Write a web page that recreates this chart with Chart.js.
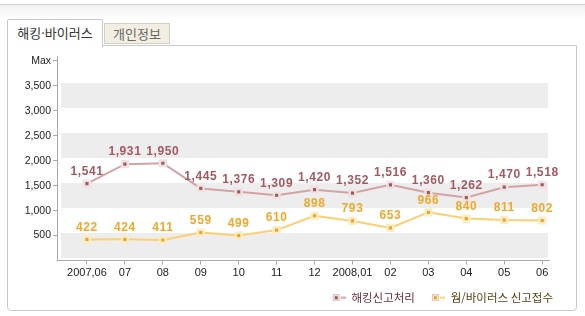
<!DOCTYPE html>
<html lang="ko">
<head>
<meta charset="utf-8">
<script src="https://cdn.jsdelivr.net/npm/chart.js@4"></script>
<style>
  html, body { margin: 0; padding: 0; background: #fff; }
  body { width: 585px; height: 316px; position: relative; overflow: hidden; font-family: "Noto Sans CJK KR", sans-serif; }
  .topline { position: absolute; left: 0; top: 4px; width: 585px; height: 14px; border-top: 1px solid #cfcfcf; background: linear-gradient(#f1f1f1, #fff); }
  .panel { position: absolute; left: 7px; top: 45px; width: 568px; height: 264px; border: 1px solid #c9c9c9; border-radius: 0 0 4px 4px; background: #fff; }
  .tab { position: absolute; box-sizing: border-box; font-size: 13px; line-height: 1; display: flex; align-items: center; justify-content: center; }
  .tab.on { left: 7px; top: 19px; width: 96px; height: 28px; border: 1px solid #c9c9c9; border-bottom: none; border-radius: 2px 2px 0 0; background: #fff; color: #333; padding-bottom: 2px; }
  .tab.off { left: 104px; top: 23px; width: 66px; height: 21px; border: 1px solid #d3cfc2; background: #f2eee2; color: #666; }
  canvas { position: absolute; left: 0; top: 0; }
</style>
</head>
<body>
<div class="topline"></div>
<div class="panel"></div>
<div class="tab on">해킹·바이러스</div>
<div class="tab off">개인정보</div>
<canvas id="chart" width="585" height="316"></canvas>
<script>
const months = ["2007,06", "07", "08", "09", "10", "11", "12", "2008,01", "02", "03", "04", "05", "06"];
const hacking = [1541, 1931, 1950, 1445, 1376, 1309, 1420, 1352, 1516, 1360, 1262, 1470, 1518];
const virus = [422, 424, 411, 559, 499, 610, 898, 793, 653, 966, 840, 811, 802];
const yTicks = [500, 1000, 1500, 2000, 2500, 3000, 3500, 4000];
const bandStarts = [0, 1000, 2000, 3000];
const seriesNames = ["해킹신고처리", "웜/바이러스 신고접수"];

const lineColors = ["#d4a2a5", "#fbcf72"];
const markerFill = ["#9c5a5e", "#eca52a"];
const markerEdge = ["#f1e1e1", "#fcecc2"];
const valueColors = ["#a5585f", "#f1a829"];
const legendTextColors = ["#6a2a3c", "#5a4214"];

// legend icon: marker square + dash, with some blank room on the left as item gap
function makeIcon(i) {
  const c = document.createElement("canvas");
  c.width = 20; c.height = 7;
  const g = c.getContext("2d");
  g.fillStyle = markerEdge[i];
  g.fillRect(7, 0, 7, 7);
  g.strokeStyle = "#d9c8c8";
  g.strokeRect(7.5, 0.5, 6, 6);
  g.fillStyle = markerFill[i];
  g.fillRect(9, 2, 3, 3);
  g.fillStyle = lineColors[i];
  g.fillRect(15, 2.5, 5, 2);
  return c;
}
const legendIcons = [makeIcon(0), makeIcon(1)];

const bandPlugin = {
  id: "bands",
  beforeDatasetsDraw(chart) {
    const { ctx, chartArea, scales } = chart;
    const y = scales.y;
    ctx.save();
    ctx.fillStyle = "#ededed";
    bandStarts.forEach((v) => {
      const top = Math.round(y.getPixelForValue(v + 500)) - 3;
      const bottom = Math.round(y.getPixelForValue(v)) - 3;
      ctx.fillRect(chartArea.left + 4, top, chartArea.right - chartArea.left - 5, bottom - top);
    });
    ctx.restore();
  },
};

const valuePlugin = {
  id: "values",
  afterDatasetsDraw(chart) {
    const { ctx } = chart;
    ctx.save();
    ctx.font = "bold 12px 'Liberation Sans', Arial, sans-serif";
    ctx.letterSpacing = "0.6px";
    ctx.textAlign = "center";
    ctx.textBaseline = "middle";
    chart.data.datasets.forEach((ds, i) => {
      ctx.fillStyle = valueColors[i];
      chart.getDatasetMeta(i).data.forEach((pt, j) => {
        ctx.fillText(ds.data[j].y.toLocaleString("en-US"), pt.x, pt.y - 12);
      });
    });
    ctx.restore();
  },
};

const series = [hacking, virus];

new Chart(document.getElementById("chart"), {
  type: "line",
  data: {
    datasets: series.map((values, i) => ({
      label: seriesNames[i],
      data: values.map((v, j) => ({ x: j, y: v })),
      borderColor: lineColors[i],
      borderWidth: 2,
      backgroundColor: markerFill[i],
      pointStyle: "rect",
      pointRadius: 4,
      pointBorderWidth: 2.5,
      pointBorderColor: markerEdge[i],
      pointBackgroundColor: markerFill[i],
      tension: 0,
    })),
  },
  options: {
    responsive: false,
    animation: false,
    events: [],
    layout: { padding: { top: 56, left: 0, right: 22, bottom: 2.5 } },
    scales: {
      x: {
        type: "linear",
        min: -0.79,
        max: 12.18,
        afterBuildTicks: (s) => { s.ticks = months.map((m, i) => ({ value: i })); },
        afterFit: (s) => { s.height = 21.5; },
        grid: { drawOnChartArea: false, color: "#a8a8a8", tickLength: 4 },
        border: { color: "#a8a8a8" },
        ticks: {
          padding: 2,
          autoSkip: false,
          maxRotation: 0,
          color: "#222",
          font: { size: 11, family: "'Liberation Sans', Arial, sans-serif" },
          callback: (v) => months[v],
        },
      },
      y: {
        min: 0,
        max: 4100,
        afterBuildTicks: (s) => { s.ticks = yTicks.map((v) => ({ value: v })); },
        afterFit: (s) => { s.width = 57; },
        grid: { drawOnChartArea: false, color: "#a8a8a8", tickLength: 4 },
        border: { color: "#a8a8a8" },
        ticks: {
          padding: 2,
          color: "#222",
          font: { size: 10.5, family: "'Liberation Sans', Arial, sans-serif" },
          callback: (v) => (v === 4000 ? "Max" : v.toLocaleString("en-US")),
        },
      },
      y2: {
        position: "right",
        min: 0,
        max: 4100,
        grid: { display: false },
        border: { display: false },
        ticks: { display: false },
        afterFit: (s) => { s.width = 14; },
      },
    },
    plugins: {
      tooltip: { enabled: false },
      legend: {
        position: "bottom",
        align: "end",
        labels: {
          usePointStyle: true,
          pointStyleWidth: 20,
          padding: 10,
          font: { size: 11.5, family: "'Noto Sans CJK KR', sans-serif" },
          generateLabels: (chart) =>
            Chart.defaults.plugins.legend.labels.generateLabels(chart).map((item, i) => ({
              ...item,
              pointStyle: legendIcons[i],
              fontColor: legendTextColors[i],
            })),
        },
      },
    },
  },
  plugins: [bandPlugin, valuePlugin],
});
</script>
</body>
</html>
